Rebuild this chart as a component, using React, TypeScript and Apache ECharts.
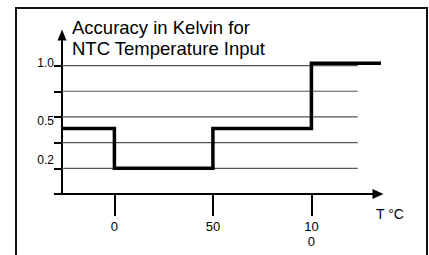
import React, { useEffect, useRef } from "react";
import * as echarts from "echarts";

const titleLines = ["Accuracy in Kelvin for", "NTC Temperature Input"];
const xAxisName = "T °C";
const xTickValues = [0, 50, 100];
const xTickLabels = ["0", "50", "10\n0"];
const yTickValues = [0, 1, 2, 3, 4, 5];
const yLabelValues = [1, 3, 5];
const yLabelTexts = ["0.2", "0.5", "1.0"];
const gridLevels = [1, 2, 3, 4, 5];
const gridLineRange = [-26.6, 123.5];
const stepX = [-26.6, 0, 0, 50, 50, 100, 100, 139.3];
const stepY = [2.55, 2.55, 1, 1, 2.55, 2.55, 5.09, 5.09];

const FONT = "'Liberation Sans', Arial, Helvetica, sans-serif";
const yLabelStyleKeys = ["lo", "mid", "hi"];

export default function App() {
  const ref = useRef<HTMLDivElement>(null);
  useEffect(() => {
    if (!ref.current) return;
    const chart = echarts.init(ref.current, null, { renderer: "svg" });
    const gridSeries = gridLevels.map((lv) => ({
      type: "line",
      data: [
        [gridLineRange[0], lv],
        [gridLineRange[1], lv],
      ],
      symbol: "none",
      silent: true,
      z: 1,
      lineStyle: { color: "#555", width: 1.2 },
    }));
    chart.setOption({
      animation: false,
      backgroundColor: "#fff",
      title: {
        text: titleLines.join("\n"),
        left: 72,
        top: 17,
        padding: 0,
        textStyle: {
          fontSize: 18.5,
          lineHeight: 21,
          fontWeight: "normal",
          color: "#000",
          fontFamily: FONT,
        },
      },
      graphic: [
        {
          type: "rect",
          shape: { x: 16, y: 8, width: 411, height: 262 },
          style: { fill: "none", stroke: "#111", lineWidth: 2 },
          z: 0,
        },
      ],
      grid: { left: 62, right: 51, top: 35, bottom: 61, containLabel: false },
      xAxis: {
        type: "value",
        min: -26.6,
        max: 133.8,
        name: xAxisName,
        nameLocation: "end",
        nameGap: -2,
        nameTextStyle: {
          fontSize: 14,
          lineHeight: 15,
          color: "#000",
          fontFamily: FONT,
          align: "left",
          verticalAlign: "top",
          padding: [12, 0, 0, 0],
        },
        axisLine: {
          show: true,
          onZero: false,
          symbol: ["none", "triangle"],
          symbolSize: [10, 11],
          lineStyle: { color: "#000", width: 2 },
        },
        axisTick: {
          show: true,
          customValues: xTickValues,
          length: 22,
          inside: false,
          lineStyle: { color: "#000", width: 2 },
        },
        axisLabel: {
          customValues: xTickValues,
          formatter: (v: number) => {
            const i = xTickValues.indexOf(v);
            return i >= 0 ? xTickLabels[i] : "";
          },
          margin: 25,
          fontSize: 13,
          lineHeight: 15,
          color: "#000",
          fontFamily: FONT,
        },
        splitLine: { show: false },
      },
      yAxis: {
        type: "value",
        min: 0,
        max: 6.19,
        axisLine: {
          show: true,
          onZero: false,
          symbol: ["none", "triangle"],
          symbolSize: [9, 11],
          lineStyle: { color: "#000", width: 2 },
        },
        axisTick: {
          show: true,
          customValues: yTickValues,
          length: 8,
          inside: false,
          lineStyle: { color: "#000", width: 2 },
        },
        axisLabel: {
          customValues: yLabelValues,
          formatter: (v: number) => {
            const i = yLabelValues.indexOf(v);
            return i >= 0 ? `{${yLabelStyleKeys[i]}|${yLabelTexts[i]}}` : "";
          },
          margin: 8,
          fontSize: 12,
          color: "#000",
          fontFamily: FONT,
          rich: {
            lo: { fontSize: 12, fontFamily: FONT, color: "#000", padding: [0, 0, 17, 0] },
            mid: { fontSize: 12, fontFamily: FONT, color: "#000", padding: [8, 0, 0, 0] },
            hi: { fontSize: 12, fontFamily: FONT, color: "#000", padding: [0, 0, 6, 0] },
          },
        },
        splitLine: { show: false },
      },
      series: [
        ...gridSeries,
        {
          type: "line",
          data: stepX.map((x, i) => [x, stepY[i]]),
          symbol: "none",
          clip: false,
          z: 3,
          lineStyle: { color: "#000", width: 3.5, join: "miter", cap: "butt" },
        },
      ],
    });
    return () => chart.dispose();
  }, []);
  return (
    <div
      ref={ref}
      style={{ position: "fixed", left: 0, top: 0, width: 429, height: 255, background: "#fff" }}
    />
  );
}
